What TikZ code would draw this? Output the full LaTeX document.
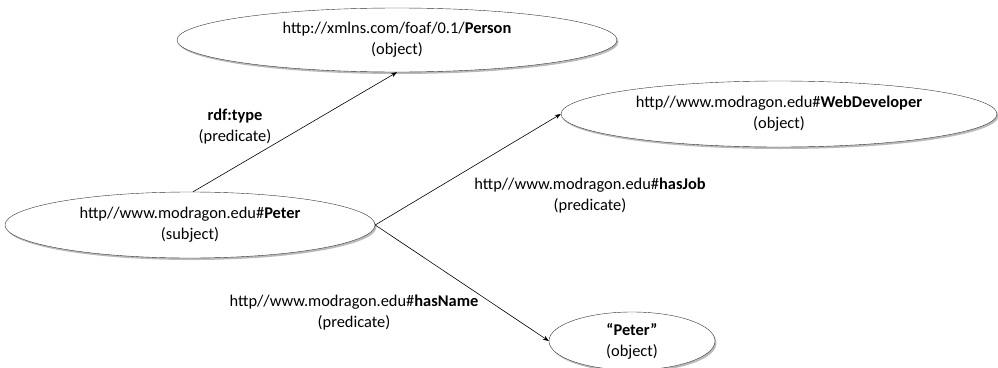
\documentclass[tikz,border=0pt]{standalone}
\usepackage{fontspec}
\setmainfont{Carlito}
\usetikzlibrary{shapes.geometric,shadows,arrows.meta}

\begin{document}
\begin{tikzpicture}[x=1pt, y=-1pt,
    resstyle/.style={ellipse, draw=black!80, fill=white, align=center, font=\fontsize{16.4}{21}\selectfont, inner sep=0pt,
        drop shadow={shadow xshift=1.5pt, shadow yshift=-2pt, fill=black!45, opacity=0.6}},
    predstyle/.style={align=center, font=\fontsize{16.4}{21}\selectfont},
    arrowstyle/.style={-{Stealth[length=6pt, width=4.5pt]}, semithick}
]
    \useasboundingbox (0,0) rectangle (998,367);

    \node[resstyle, minimum width=440, minimum height=64] (person) at (397,40) {http://xmlns.com/foaf/0.1/\textbf{Person}\\(object)};
    \node[resstyle, minimum width=436, minimum height=66] (webdev) at (779,114) {http//www.modragon.edu\#\textbf{WebDeveloper}\\(object)};
    \node[resstyle, minimum width=370, minimum height=66] (peter) at (190,225) {http//www.modragon.edu\#\textbf{Peter}\\(subject)};
    \node[resstyle, minimum width=166, minimum height=58] (name) at (632,341) {\textbf{“Peter”}\\(object)};

    \node[predstyle] (type) at (235,127) {\textbf{rdf:type}\\(predicate)};
    \node[predstyle] (hasjob) at (590,196) {http//www.modragon.edu\#\textbf{hasJob}\\(predicate)};
    \node[predstyle] (hasname) at (354,313) {http//www.modragon.edu\#\textbf{hasName}\\(predicate)};

    \draw[arrowstyle] (peter.north) ++(3,0) -- (person.south);
    \draw[arrowstyle] (peter.east) -- (webdev.west);
    \draw[arrowstyle] (peter.east) -- (name.west);
\end{tikzpicture}
\end{document}
